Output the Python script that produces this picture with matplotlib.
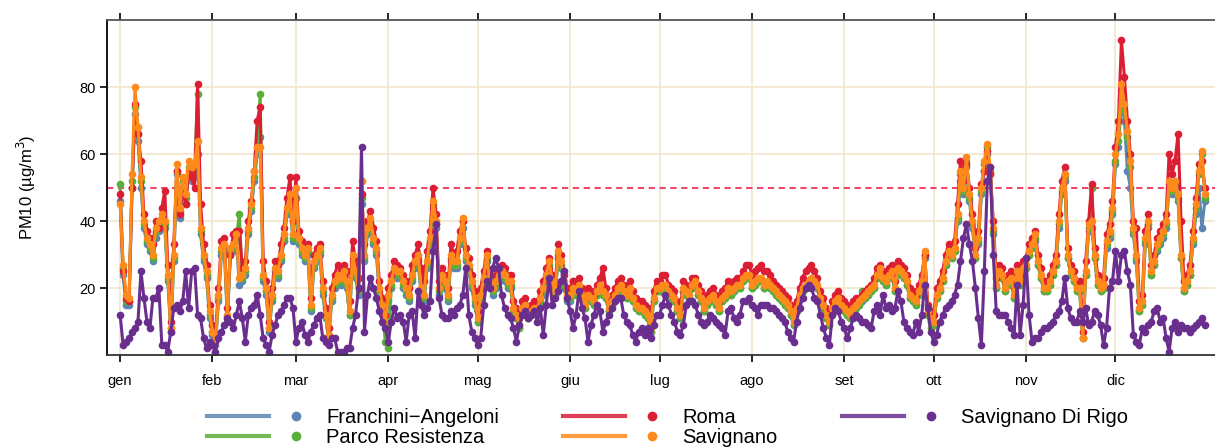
import numpy as np
import pandas as pd
import matplotlib
matplotlib.use('Agg')
import matplotlib.pyplot as plt
import matplotlib.dates as mdates
from matplotlib.lines import Line2D
from matplotlib.legend_handler import HandlerBase

plt.rcParams['font.family'] = ['Liberation Sans', 'DejaVu Sans']

# =============================================================================
# Daily PM10 (ug/m3), one line per month
# =============================================================================
days = pd.date_range('2019-01-01', '2019-12-31', freq='D')
month_labels = ['gen', 'feb', 'mar', 'apr', 'mag', 'giu',
                'lug', 'ago', 'set', 'ott', 'nov', 'dic']

franchini = [
    46,24,15,15,50,72,64,50,38,33,31,28,35,37,40,38,22,7,28,54,41,50,45,54,52,53,60,36,28,23,11,
    6,3,16,30,31,10,30,31,34,21,22,24,36,43,52,60,65,22,18,7,16,24,23,28,34,42,45,34,
    47,33,30,28,30,13,26,28,30,18,11,5,16,20,22,21,23,20,12,28,23,18,45,28,36,39,33,30,18,14,9,
    16,20,24,23,23,20,18,16,22,26,28,18,16,26,33,44,38,18,22,20,16,28,26,26,33,38,28,25,20,15,
    10,16,21,28,20,18,20,22,23,22,20,20,13,11,8,13,14,11,12,13,13,16,18,22,26,21,18,29,26,20,16,
    16,22,18,19,17,14,17,16,15,18,19,18,17,13,15,17,19,20,18,17,19,16,14,13,13,12,11,7,16,19,
    19,20,20,18,17,16,13,11,19,18,19,20,21,18,16,13,15,16,17,15,13,16,17,19,18,19,20,20,22,23,23,
    20,21,22,22,20,21,20,19,18,17,16,15,14,12,9,13,17,19,20,21,22,21,20,16,14,11,9,13,15,16,14,
    13,12,11,13,14,15,16,17,18,19,20,23,25,22,21,23,24,19,25,24,23,21,17,16,15,18,21,29,12,10,
    9,17,19,22,27,30,29,31,40,52,48,56,46,38,29,33,48,55,60,54,36,20,24,23,19,21,22,17,24,21,25,
    26,30,32,34,27,23,19,19,21,24,27,38,48,52,29,24,22,19,19,5,24,37,38,29,21,19,20,32,35,42,
    57,62,76,70,55,50,36,28,13,15,33,38,24,27,31,33,35,38,50,48,50,46,29,19,21,24,33,42,50,38,46,
]

parco = [
    51,26,16,16,52,74,66,52,39,34,32,29,37,39,41,39,23,8,29,55,43,52,47,56,54,55,78,37,29,24,12,
    7,4,17,31,32,11,31,32,35,42,23,25,37,44,53,62,78,23,19,8,17,25,24,29,35,43,47,35,
    47,34,31,29,31,14,27,29,31,19,11,6,17,21,23,22,24,21,12,29,24,19,47,29,37,40,34,31,19,13,4,
    2,21,25,24,24,21,19,17,23,27,29,19,17,27,34,45,39,19,23,21,17,29,27,27,34,40,29,26,21,16,
    10,17,22,29,21,19,21,23,24,23,21,21,13,11,8,13,14,11,12,13,13,16,19,23,27,21,18,30,27,21,17,
    17,19,18,20,17,14,17,16,15,18,20,18,17,13,15,17,19,20,18,17,19,16,14,13,13,12,11,7,16,19,
    19,20,20,18,17,16,13,11,19,18,17,20,21,18,16,13,15,16,17,15,13,16,17,19,18,19,20,20,22,23,23,
    20,21,22,22,20,21,20,19,18,17,16,15,14,12,9,13,17,19,20,21,22,21,20,16,14,11,9,13,15,16,14,
    13,12,11,13,14,15,19,17,18,19,20,23,25,22,21,23,24,19,25,24,23,21,17,16,15,18,21,30,12,8,
    9,17,19,22,27,30,29,31,41,54,49,58,47,39,29,34,49,57,62,55,37,20,24,23,19,21,22,17,24,21,25,
    26,30,32,35,27,23,19,19,21,24,27,39,49,53,29,24,22,19,19,5,24,38,50,29,21,19,20,33,36,43,
    58,64,79,73,65,56,37,29,13,15,34,39,24,27,32,34,36,39,51,49,51,47,29,19,21,24,34,44,54,60,47,
]

roma = [
    48,25,17,16,50,75,66,58,42,37,35,33,40,38,44,49,27,10,33,55,42,50,45,55,53,50,81,45,33,27,15,
    9,6,20,34,35,14,30,36,37,37,26,28,40,46,55,70,74,28,22,10,20,28,27,33,38,47,53,40,
    53,37,34,32,33,17,30,32,33,22,14,8,20,24,27,25,27,25,16,34,28,23,48,33,40,43,38,34,22,17,12,
    20,24,28,27,26,24,22,20,27,30,33,26,22,31,37,50,42,22,26,24,20,33,30,31,37,40,32,29,24,19,
    13,20,25,31,24,22,24,26,27,26,24,24,16,14,11,16,17,14,15,16,16,19,22,26,29,24,21,33,30,24,20,
    20,22,21,23,20,17,20,19,18,21,23,26,20,16,18,20,22,23,21,20,22,19,17,16,16,15,14,10,19,22,
    22,24,24,21,20,19,16,14,22,21,20,23,23,21,19,16,18,19,20,18,16,19,20,22,21,22,23,23,25,27,27,
    24,25,26,27,25,25,24,22,21,20,19,18,17,15,12,16,20,23,25,26,27,25,23,19,17,14,12,16,18,19,17,
    16,15,14,16,17,17,18,19,20,21,23,26,27,25,24,26,27,22,28,27,26,24,20,19,18,21,24,30,15,13,
    12,20,22,25,30,33,32,34,45,58,52,57,50,42,32,37,51,55,61,54,40,23,27,26,22,24,25,20,27,24,28,
    29,33,35,37,30,26,22,22,24,27,30,42,52,56,32,27,25,22,22,7,28,40,51,32,24,22,23,36,39,46,
    62,70,94,83,70,60,40,38,16,18,37,42,27,30,35,37,39,42,60,54,58,66,40,22,24,27,37,47,57,58,50,
]

savignano = [
    45,27,18,17,54,80,68,53,40,35,33,30,38,40,42,40,24,8,30,57,44,53,48,58,56,57,64,38,30,25,13,
    7,4,18,32,33,12,32,33,36,23,24,26,38,45,55,62,62,24,20,8,18,26,25,30,36,44,48,36,
    50,35,32,30,32,15,28,30,32,20,12,6,18,22,24,23,25,22,13,30,25,20,52,30,38,41,35,32,20,15,10,
    18,22,26,25,25,22,20,18,24,28,30,20,18,28,35,46,40,20,24,22,18,30,28,28,35,41,30,27,22,17,
    11,18,23,30,22,20,22,24,25,24,22,22,14,12,9,14,15,12,13,14,14,17,20,24,28,22,19,31,28,22,18,
    18,20,19,21,18,15,18,17,16,19,21,19,18,14,16,18,20,21,19,18,20,17,15,14,14,13,12,8,17,20,
    20,21,21,19,18,17,14,12,20,19,18,21,22,19,17,14,16,17,18,16,14,17,18,20,19,20,21,21,23,24,24,
    21,22,23,23,21,22,21,20,19,18,17,16,15,13,10,14,18,20,21,22,23,22,21,17,15,12,10,14,16,17,15,
    14,13,12,14,15,16,17,18,19,20,21,24,26,23,22,24,25,20,26,25,24,22,18,17,16,19,22,31,13,11,
    10,18,20,23,28,31,30,32,42,55,50,59,48,40,30,35,50,58,63,56,38,21,25,24,20,22,23,18,25,22,26,
    27,31,33,36,28,24,20,20,22,25,28,40,50,54,30,25,23,20,20,5,25,39,40,30,22,20,21,34,37,44,
    60,66,81,75,67,58,38,30,14,16,35,40,25,28,33,35,37,40,52,50,52,48,30,20,22,25,35,45,55,61,48,
]

di_rigo = [
    12,3,4,5,7,8,10,25,17,10,8,17,17,20,3,3,1,7,14,15,13,16,25,14,25,26,12,11,5,2,4,
    3,1,5,7,9,11,10,8,12,16,11,4,12,14,15,18,12,5,3,1,6,9,12,13,15,17,17,14,
    4,8,10,6,4,7,9,11,12,5,4,3,5,5,1,1,1,2,2,8,12,20,62,7,18,23,20,17,13,10,8,
    4,10,14,11,12,10,4,12,13,5,19,15,12,14,16,31,39,17,12,11,11,13,12,14,15,18,26,12,7,5,
    3,5,15,22,20,26,29,26,18,14,12,11,8,4,9,12,13,11,12,13,10,14,6,15,23,15,17,19,22,25,17,
    13,8,12,19,14,11,4,9,12,15,13,7,10,12,14,16,17,17,12,10,9,6,4,7,8,6,8,5,9,12,
    12,15,18,15,12,10,7,6,9,15,16,16,15,12,10,9,10,12,11,10,9,8,6,13,14,11,10,12,16,16,17,
    15,14,12,15,15,15,14,14,13,12,11,10,7,5,4,10,14,17,20,21,20,17,16,12,8,5,3,12,14,13,10,
    8,5,8,11,12,11,10,10,9,8,13,15,12,18,14,15,13,14,19,16,10,8,7,6,10,7,12,21,14,7,
    4,6,10,12,14,15,16,18,21,28,35,39,33,28,20,11,3,25,52,56,30,13,12,12,12,10,8,6,21,6,15,
    29,12,4,5,5,7,8,8,9,10,12,13,16,23,14,11,10,10,13,10,14,9,10,13,12,9,3,8,20,22,
    31,22,30,31,25,21,6,4,3,8,7,9,10,13,14,10,11,5,1,8,10,7,9,8,8,7,8,9,10,11,9,
]

stations = ['Franchini\u2212Angeloni', 'Parco Resistenza', 'Roma', 'Savignano', 'Savignano Di Rigo']
series = [franchini, parco, roma, savignano, di_rigo]
colours = ['#5b86b3', '#5aae3a', '#dc1e35', '#ff8a1c', '#6a2f8e']
limit_value = 50

# =============================================================================
# Plot
# =============================================================================
fig = plt.figure(figsize=(12.15, 4.48), dpi=100)
ax = fig.add_axes([107/1215, 93/448, 1108/1215, 335/448])

for vals, c, lab in zip(series, colours, stations):
    ax.plot(days, vals, '-o', color=c, lw=2.2, ms=5.5, mew=0, label=lab)

ax.axhline(limit_value, color='#f0466a', ls=(0, (3, 2.2)), lw=1.5, zorder=1)

month_starts = pd.date_range('2019-01-01', periods=12, freq='MS')
ax.set_xticks(month_starts)
ax.set_xticklabels(month_labels)
x0 = mdates.date2num(days[0])
ax.set_xlim(x0 - 4.4, x0 + 367.4)
ax.set_ylim(0, 100)
ax.set_yticks([20, 40, 60, 80])

ax.grid(True, color='#f2e6cc', lw=1.2, zorder=0)
ax.set_axisbelow(True)

ax.tick_params(axis='x', which='both', top=True, bottom=True, direction='out',
               length=5, width=1.2, labelsize=10.5, pad=9, colors='black')
ax.tick_params(axis='y', direction='out', length=5, width=1.2, labelsize=10.5, pad=3)
ax.spines['right'].set_visible(False)
for s in ('left', 'bottom', 'top'):
    ax.spines[s].set_linewidth(1.3)
ax.spines['top'].set_color('#555555')
ax.spines['bottom'].set_color('#333333')

ax.set_ylabel('PM10 (\u00b5g/m$^3$)', fontsize=12)
ax.yaxis.set_label_coords(-0.062, 0.5)


class LineDot(HandlerBase):
    # line segment followed by a separate dot, as in the source legend
    def create_artists(self, legend, orig_handle, xdescent, ydescent,
                       width, height, fontsize, trans):
        c = orig_handle.get_color()
        y = height / 2 - ydescent
        ln = Line2D([-xdescent, -xdescent + 0.63 * width], [y, y], color=c,
                    lw=3, alpha=0.85, transform=trans)
        dot = Line2D([-xdescent + 0.9 * width], [y], marker='o', ms=7, mew=0,
                     color=c, ls='none', transform=trans)
        return [ln, dot]


handles = [Line2D([], [], color=c) for c in colours]
fig.legend(handles, stations, loc='upper left', bbox_to_anchor=(197/1215, 0.111),
           ncol=3, frameon=False, fontsize=14.5, borderpad=0, labelspacing=0.05,
           handlelength=4.9, handletextpad=1.0, columnspacing=3.2,
           handler_map={Line2D: LineDot()})

fig.savefig('out.png', dpi=100)
